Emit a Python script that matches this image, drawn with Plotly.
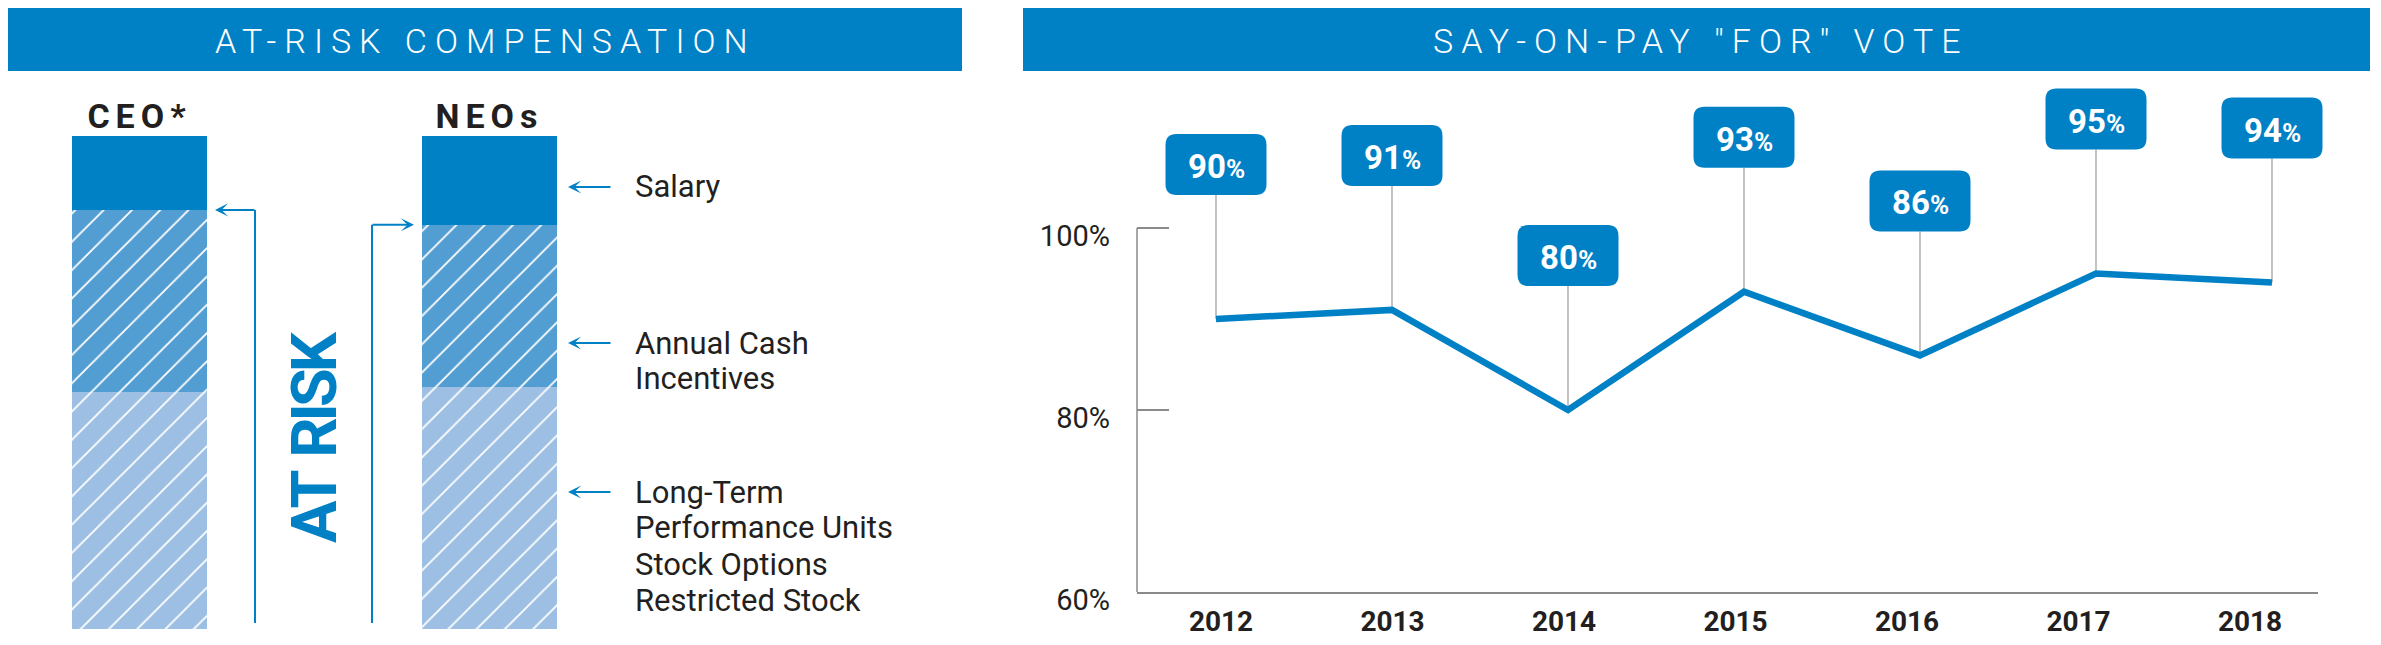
import plotly.graph_objects as go

# target picture size; the page body adds an 8 px margin, so the figure is 8 px smaller
W, H = 2381, 645
OFF = 8
FW, FH = W - OFF, H - OFF

# ---------------- data ----------------
roles = ["CEO*", "NEOs"]
salary = [15, 18]
annual_cash = [37, 33]
long_term = [48, 49]

years = [2012, 2013, 2014, 2015, 2016, 2017, 2018]
for_vote = [90, 91, 80, 93, 86, 95, 94]
y_tick_vals = [60, 80, 100]
y_tick_text = ["60%", "80%", "100%"]

legend_lines = [
    ("Salary", 187, True),
    ("Annual Cash", 343, True),
    ("Incentives", 378, False),
    ("Long-Term", 492, True),
    ("Performance Units", 527, False),
    ("Stock Options", 564, False),
    ("Restricted Stock", 600, False),
]

# ---------------- style ----------------
BLUE = "#0081C6"
MID = "#529DD2"
LIGHT = "#9DBFE3"
INK = "#231F20"
GREY = "#8a8a8a"
SANS = "Roboto, Liberation Sans, sans-serif"


def px(x):
    return (x - OFF) / FW


def py(y):
    return 1 - (y - OFF) / FH


def spaced(text, ls):
    return f"<span style='letter-spacing:{ls}px'>{text}</span>"


fig = go.Figure()

# ---------------- left: stacked bars ----------------
bar_w = 0.386
xpos = list(range(len(roles)))
segments = [
    ("Salary", salary, BLUE, None),
    ("Annual Cash Incentives", annual_cash, MID, "/"),
    ("Long-Term", long_term, LIGHT, "/"),
]
for name, vals, col, pat in reversed(segments):
    marker = dict(color=col, line=dict(width=0))
    if pat:
        marker["pattern"] = dict(shape=pat, fgcolor="white", bgcolor=col,
                                 fillmode="replace", size=20, solidity=0.09)
    fig.add_trace(go.Bar(x=xpos, y=vals, width=bar_w, name=name, marker=marker,
                         xaxis="x", yaxis="y", hoverinfo="skip"))

# ---------------- right: line chart ----------------
# invisible trace so the labelled year axis (x2) forms a subplot with y2
fig.add_trace(go.Scatter(x=years, y=for_vote, mode="markers", xaxis="x2", yaxis="y2",
                         marker=dict(opacity=0), hoverinfo="skip"))
fig.add_trace(go.Scatter(x=years, y=for_vote, mode="lines", xaxis="x3", yaxis="y2",
                         line=dict(color=BLUE, width=6.5), cliponaxis=False,
                         hoverinfo="skip"))

shapes = []
annotations = []

for x0, x1, title in [(0, 962, "AT-RISK COMPENSATION"), (1023, 2370, 'SAY-ON-PAY "FOR" VOTE')]:
    shapes.append(dict(type="rect", xref="paper", yref="paper", x0=px(x0), x1=px(x1),
                       y0=py(71), y1=py(7), fillcolor=BLUE, line=dict(width=0), layer="below"))
    annotations.append(dict(xref="paper", yref="paper", x=px((x0 + x1) / 2 + 4), y=py(41),
                            xanchor="center", yanchor="middle",
                            text=spaced(title, 8), showarrow=False,
                            font=dict(family=SANS, size=34, color="white", weight=300)))

GAP, BH, BW, R = 124, 61, 101, 11


def rrect(x0, y0, x1, y1, r):
    return (f"M{x0 + r},{y0} L{x1 - r},{y0} Q{x1},{y0} {x1},{y0 + r} "
            f"L{x1},{y1 - r} Q{x1},{y1} {x1 - r},{y1} L{x0 + r},{y1} "
            f"Q{x0},{y1} {x0},{y1 - r} L{x0},{y0 + r} Q{x0},{y0} {x0 + r},{y0} Z")


for yr, v in zip(years, for_vote):
    shapes.append(dict(type="line", xref="x3", yref="y2", xsizemode="pixel", ysizemode="pixel",
                       xanchor=yr, yanchor=v, x0=0, x1=0, y0=0, y1=GAP,
                       line=dict(color="#9a9a9a", width=1.2), layer="below"))
    shapes.append(dict(type="path", xref="x3", yref="y2", xsizemode="pixel", ysizemode="pixel",
                       xanchor=yr, yanchor=v, path=rrect(-BW / 2, GAP, BW / 2, GAP + BH, R),
                       fillcolor=BLUE, line=dict(width=0), layer="above"))
    annotations.append(dict(xref="x3", yref="y2", x=yr, y=v, yshift=GAP + BH / 2 - 2,
                            xanchor="center", yanchor="middle", showarrow=False,
                            text=f"<b>{v}</b><span style='font-size:26px'><b>%</b></span>",
                            font=dict(family=SANS, size=33, color="white")))

# partial y axis line (60% .. 100%)
shapes.append(dict(type="line", xref="x2 domain", yref="y2", x0=0, x1=0, y0=60, y1=100,
                   line=dict(color=GREY, width=1.5)))

# AT RISK connectors
shapes.append(dict(type="line", xref="paper", yref="y", x0=px(255), x1=px(255),
                   y0=1.2, y1=100 - salary[0], line=dict(color=BLUE, width=2)))
shapes.append(dict(type="line", xref="paper", yref="y", x0=px(372), x1=px(372),
                   y0=1.2, y1=100 - salary[1], line=dict(color=BLUE, width=2)))
annotations.append(dict(xref="paper", yref="y", x=px(215), y=100 - salary[0], ax=41, ay=0,
                        text="", showarrow=True, arrowhead=3, arrowwidth=2, arrowsize=1.1,
                        arrowcolor=BLUE))
annotations.append(dict(xref="paper", yref="y", x=px(414), y=100 - salary[1], ax=-43, ay=0,
                        text="", showarrow=True, arrowhead=3, arrowwidth=2, arrowsize=1.1,
                        arrowcolor=BLUE))
annotations.append(dict(xref="paper", yref="paper", x=px(314), y=py(437), textangle=-90,
                        xanchor="center", yanchor="middle",
                        text=f"<b>{spaced('AT', -4)} {spaced('RISK', -4)}</b>", showarrow=False,
                        font=dict(family=SANS, size=63, color=BLUE)))

for txt, yy, arrow in legend_lines:
    annotations.append(dict(xref="paper", yref="paper", x=px(633), y=py(yy),
                            xanchor="left", yanchor="middle",
                            text=txt, showarrow=False,
                            font=dict(family=SANS, size=31, color=INK)))
    if arrow:
        annotations.append(dict(xref="paper", yref="paper", x=px(568), y=py(yy), ax=44, ay=0,
                                text="", showarrow=True, arrowhead=3, arrowwidth=2,
                                arrowsize=1.1, arrowcolor=BLUE))

# ---------------- axes ----------------
left_scale = 350.0
x_left_px, x_right_px, c0 = OFF, 963, 139.5
lab_scale = 171.5
pt_scale = 176.0
yscale = 9.1

fig.update_layout(
    width=FW, height=FH, margin=dict(l=0, r=0, t=0, b=0, autoexpand=False),
    paper_bgcolor="white", plot_bgcolor="rgba(0,0,0,0)", showlegend=False,
    barmode="stack", bargap=0,
    xaxis=dict(domain=[px(x_left_px), px(x_right_px)], anchor="y", automargin=False,
               range=[(x_left_px - c0) / left_scale, (x_right_px - c0) / left_scale],
               tickvals=xpos, ticktext=[spaced(r, 6) for r in roles], side="top",
               showline=False, showgrid=False, zeroline=False, ticks="",
               tickfont=dict(family=SANS, size=34, color=INK, weight="bold"),
               ticklabelstandoff=0),
    yaxis=dict(domain=[py(629), py(136)], anchor="x", range=[0, 100], visible=False,
               automargin=False),
    xaxis2=dict(domain=[px(1137), px(2318)], anchor="y2", automargin=False,
                range=[2012 - (1221 - 1137) / lab_scale, 2018 + (2318 - 2250) / lab_scale],
                tickvals=years, ticktext=[str(y) for y in years],
                showline=True, linecolor=GREY, linewidth=2, showgrid=False, zeroline=False,
                ticks="", tickfont=dict(family=SANS, size=28, color=INK, weight="bold"),
                ticklabelstandoff=3),
    xaxis3=dict(domain=[px(1100), px(W)], anchor="y2", visible=False, automargin=False,
                range=[2012 - (1216 - 1100) / pt_scale, 2018 + (W - 2272) / pt_scale]),
    yaxis2=dict(domain=[py(592), py(80)], anchor="x2", automargin=False,
                range=[60, 60 + (592 - 80) / yscale],
                tickvals=y_tick_vals, ticktext=y_tick_text, ticks="inside", ticklen=32,
                tickcolor=GREY, tickwidth=1.5, showline=False, showgrid=False,
                zeroline=False, tickfont=dict(family=SANS, size=29, color=INK),
                ticklabelstandoff=26, ticklabelshift=8),
    shapes=shapes, annotations=annotations,
)

fig.write_html("out.html")
